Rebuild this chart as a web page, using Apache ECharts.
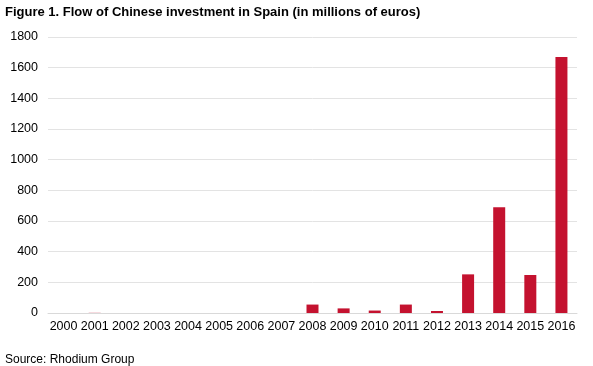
<!DOCTYPE html>
<html><head><meta charset="utf-8">
<script src="https://cdn.jsdelivr.net/npm/echarts@6/dist/echarts.min.js"></script>
<style>html,body{margin:0;padding:0;background:#fff}#c{width:593px;height:366px}</style>
</head><body><div id="c"></div>
<script>
const years = ['2000','2001','2002','2003','2004','2005','2006','2007','2008','2009','2010','2011','2012','2013','2014','2015','2016'];
const investment = [0, 1, 0, 0, 0, 0, 0, 0, 55, 30, 16, 55, 13, 252, 689, 248, 1670];
const yTicks = [0, 200, 400, 600, 800, 1000, 1200, 1400, 1600, 1800];
const chart = echarts.init(document.getElementById('c'));
chart.setOption({
  animation: false,
  title: [
    {text: 'Figure 1. Flow of Chinese investment in Spain (in millions of euros)', left: 0, top: 1,
     textStyle: {fontFamily: 'Liberation Sans', fontWeight: 'bold', fontSize: 13, color: '#000'}},
    {text: 'Source: Rhodium Group', left: 0, top: 349,
     textStyle: {fontFamily: 'Liberation Sans', fontWeight: 'normal', fontSize: 12, color: '#000'}}
  ],
  grid: {left: 48, right: 16, top: 37, bottom: 53, containLabel: false},
  xAxis: {
    type: 'category', data: years,
    axisLine: {lineStyle: {color: '#d9d9d9'}},
    axisTick: {show: false},
    axisLabel: {fontFamily: 'Liberation Sans', fontSize: 12.5, color: '#000', margin: 7, interval: 0}
  },
  yAxis: {
    type: 'value', min: yTicks[0], max: yTicks[yTicks.length-1], interval: 200,
    axisLine: {show: false}, axisTick: {show: false},
    splitLine: {lineStyle: {color: '#e3e3e3'}},
    axisLabel: {fontFamily: 'Liberation Sans', fontSize: 12.5, color: '#000', margin: 10,
      formatter: v => String(v)}
  },
  series: [{
    type: 'bar', data: investment, barWidth: 12,
    itemStyle: {color: '#c4122f'}
  }]
});
</script></body></html>
